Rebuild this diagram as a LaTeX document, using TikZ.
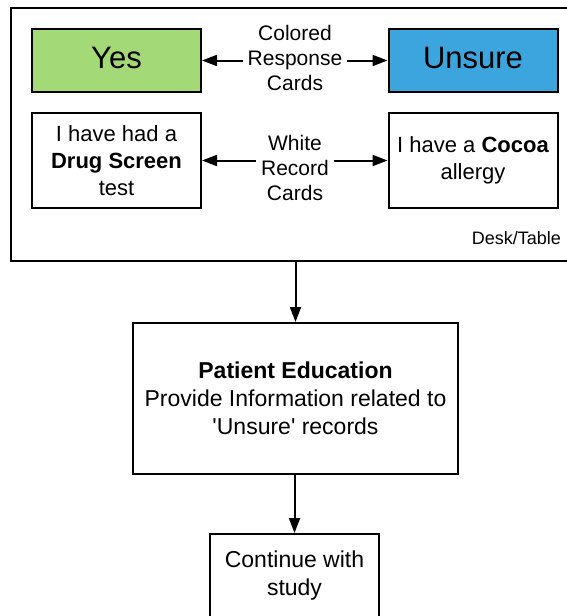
\documentclass[tikz,border=0pt]{standalone}
\usepackage{fontspec}
\setmainfont{Liberation Sans}
\usetikzlibrary{arrows.meta}
\definecolor{yesgreen}{RGB}{163,217,119}
\definecolor{unsureblue}{RGB}{60,165,221}
\tikzset{
  box/.style={draw=black, line width=2pt, align=center, inner sep=0pt},
  card/.style={box, minimum width=169pt, minimum height=95pt, font=\fontsize{22}{27}\selectfont},
  colcard/.style={box, minimum width=169pt, minimum height=63pt, text height=22pt, text depth=6pt, font=\fontsize{31}{37}\selectfont},
  lbl/.style={align=center, inner xsep=5pt, inner ysep=0pt, font=\fontsize{21}{25}\selectfont},
  arr/.style={line width=2pt, -{Triangle[length=15pt,width=11pt]}},
}
\begin{document}
\begin{tikzpicture}[x=1pt, y=-1pt]
\useasboundingbox (0,0) rectangle (567,616);
% outer desk area
\node[box, minimum width=569pt, minimum height=253pt] (desk) at (295.5,134.5) {};
\node[anchor=east, inner sep=0pt, font=\fontsize{18}{22}\selectfont] (desklbl) at (561,238) {Desk/Table};
% colored cards
\node[colcard, fill=yesgreen] (yes) at (116.5,60.5) {Yes};
\node[colcard, fill=unsureblue] (unsure) at (473,60.5) {Unsure};
\node[lbl] (collbl) at (295,58) {Colored\\Response\\Cards};
\draw[arr] (collbl.west |- yes.east) -- (yes.east);
\draw[arr] (collbl.east |- unsure.west) -- (unsure.west);
% white cards
\node[card, fill=white] (drug) at (116.5,160.5) {I have had a\\\textbf{Drug Screen}\\test};
\node[card, fill=white] (cocoa) at (473,160.5) {I have a \textbf{Cocoa}\\allergy};
\node[lbl] (whlbl) at (295,168) {White\\Record\\Cards};
\draw[arr] (whlbl.west |- drug.east) -- (drug.east);
\draw[arr] (whlbl.east |- cocoa.west) -- (cocoa.west);
% patient education
\node[box, minimum width=325pt, minimum height=151pt, font=\fontsize{23}{28}\selectfont] (pe) at (295.5,398.5)
  {\textbf{Patient Education}\\Provide Information related to\\\textquotesingle Unsure\textquotesingle{} records};
\draw[arr] (pe.north |- desk.south) -- (pe.north);
% continue
\node[box, anchor=north, minimum width=169pt, inner ysep=17pt, text depth=70pt, font=\fontsize{23}{28}\selectfont] (cont) at (294.5,533)
  {Continue with\\study};
\draw[arr] (pe.south -| cont.north) -- (cont.north);
\end{tikzpicture}
\end{document}
